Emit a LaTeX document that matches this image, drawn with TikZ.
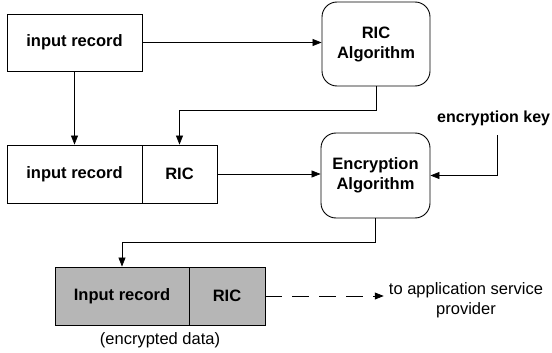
\documentclass[tikz,border=0pt]{standalone}
\usepackage{fontspec}
\setmainfont{Liberation Sans}
\usetikzlibrary{arrows.meta}
\definecolor{boxgray}{RGB}{182,182,182}
\begin{document}
\begin{tikzpicture}[x=1pt,y=-1pt,
  txt/.style={font=\fontsize{16.5}{20}\selectfont},
  btxt/.style={font=\fontsize{16.5}{20}\selectfont\bfseries},
  box/.style={btxt,draw,line width=0.9pt,minimum height=57pt,inner sep=0pt},
  alg/.style={btxt,draw,rounded corners=15pt,line width=0.9pt,align=center,inner sep=0pt},
  conn/.style={line width=0.7pt,-{Triangle[length=9pt,width=7pt]}}]
\useasboundingbox (0,0) rectangle (552,353);
\node[box,minimum width=135pt] (in1) at (74.5,42.5) {input record};
\node[alg,minimum width=108pt,minimum height=84pt] (ricalg) at (376,44) {RIC\\Algorithm};
\node[box,minimum width=135pt,minimum height=58pt] (in2) at (74.5,174) {input record};
\node[box,minimum width=75pt,minimum height=58pt] (ric2) at (179.5,174) {RIC};
\node[font=\fontsize{16}{19}\selectfont\bfseries,anchor=west,inner sep=0pt] (key) at (437,118) {encryption key};
\coordinate (keyend) at (497,135);
\node[alg,minimum width=109pt,minimum height=85pt] (encalg) at (375.5,175.5) {Encryption\\Algorithm};
\node[box,fill=boxgray,minimum width=134pt,minimum height=58pt] (in3) at (122,296) {Input record};
\node[box,fill=boxgray,minimum width=76pt,minimum height=58pt] (ric3) at (227,296) {RIC};
\node[txt,inner sep=0pt] (enc) at (160,340) {(encrypted data)};
\node[txt,align=center,inner sep=0pt] (asp) at (466,300) {to application service\\provider};

\draw[conn] (in1.east) -- (in1.east -| ricalg.west);
\draw[conn] (in1) -- (in2);
\draw[conn] (ricalg.south) -- ++(0,24) -| (ric2.north);
\draw[conn] (ric2.east) -- (ric2.east -| encalg.west);
\draw[conn] (keyend) |- (encalg.east);
\draw[conn] (encalg.south) -- ++(0,24) -| (in3.north);
\draw[conn,dash pattern=on 17pt off 10pt] (ric3.east) -- ([xshift=-5pt]ric3.east -| asp.west);
\end{tikzpicture}
\end{document}
